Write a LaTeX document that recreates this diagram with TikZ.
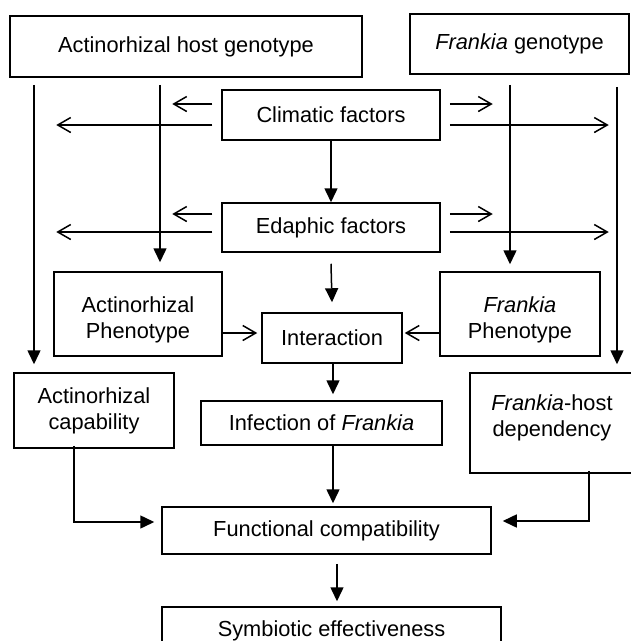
\documentclass[tikz,border=0pt]{standalone}
\usepackage{fontspec}
\setmainfont{Liberation Sans}
\usetikzlibrary{arrows.meta}
\begin{document}
\begin{tikzpicture}[x=1pt,y=-1pt,
  box/.style={draw, line width=1.5pt, inner sep=0pt, align=center,
    font=\fontsize{21.8}{26}\selectfont},
  bx/.style 2 args={box, minimum width=#1pt, minimum height=#2pt},
  fa/.style={line width=1.5pt, -{Triangle[length=14pt,width=13pt]}},
  oa/.style={line width=1.5pt, -{Straight Barb[length=13pt,width=15pt]}}]
\useasboundingbox (0,0) rectangle (631,641);

% boxes
\node[bx={352}{61}] (hg) at (186,46.5) {Actinorhizal host genotype};
\node[bx={219}{60}] (fg) at (519.5,44) {\textit{Frankia} genotype};
\node[bx={218}{50}] (clim) at (331,115) {Climatic factors};
\node[bx={218}{49}] (eda) at (331,227.5) {Edaphic factors};
\node[bx={168}{84}] (aph) at (138,314) {\rule{0pt}{28pt}Actinorhizal\\Phenotype};
\node[bx={160}{84}] (fph) at (520,314) {\rule{0pt}{28pt}\textit{Frankia}\\Phenotype};
\node[bx={140}{50}] (inter) at (332,338) {Interaction};
\node[bx={160}{75}] (acap) at (94,410.5) {Actinorhizal\\capability};
\node[bx={241}{44}] (inf) at (321.5,423) {Infection of \textit{Frankia}};
\node[bx={164}{100}] (fhd) at (552,423) {\textit{Frankia}-host\\dependency\rule[-14pt]{0pt}{14pt}};
\node[bx={329}{47}] (fc) at (326.5,530.5) {Functional compatibility};
\node[bx={339}{47}] (se) at (331.5,630.5) {Symbiotic effectiveness};

% x positions of the long vertical lines
\coordinate (L1) at (34,0);
\coordinate (L2) at (160,0);
\coordinate (R1) at (510,0);
\coordinate (R2) at (617,0);

% genotype lines
\draw[fa] ([yshift=-7pt]hg.south -| L1) -- ([yshift=8pt]acap.north -| L1);
\draw[fa] ([yshift=-7pt]hg.south -| L2) -- ([yshift=9pt]aph.north -| L2);
\draw[fa] ([yshift=-10pt]fg.south -| R1) -- ([yshift=7pt]fph.north -| R1);
\draw[fa] ([yshift=-12pt]fg.south -| R2) -- ([yshift=8pt]fhd.north -| R2);

% climatic factors arrows
\draw[oa] ([shift={(-9pt,11pt)}]clim.west) -- ++(-40,0);
\draw[oa] ([shift={(-9pt,-10pt)}]clim.west) -- ++(-156,0);
\draw[oa] ([shift={(9pt,11pt)}]clim.east) -- ++(43,0);
\draw[oa] ([shift={(9pt,-10pt)}]clim.east) -- ++(159,0);

% edaphic factors arrows
\draw[oa] ([shift={(-9pt,13.5pt)}]eda.west) -- ++(-40,0);
\draw[oa] ([shift={(-9pt,-4.5pt)}]eda.west) -- ++(-156,0);
\draw[oa] ([shift={(9pt,13.5pt)}]eda.east) -- ++(43,0);
\draw[oa] ([shift={(9pt,-4.5pt)}]eda.east) -- ++(159,0);

% central chain
\draw[fa] (clim.south) -- (eda.north);
\draw[fa] ([yshift=-11pt]eda.south) -- ([yshift=10pt]inter.north);
\draw[oa] ([yshift=5pt]inter.west -| aph.east) -- ([shift={(-4pt,5pt)}]inter.west);
\draw[oa] ([yshift=5pt]inter.east -| fph.west) -- ([shift={(2pt,5pt)}]inter.east);
\draw[fa] ([xshift=1pt]inter.south) -- ([shift={(1pt,6pt)}]inf.north -| inter.south);
\draw[fa] ([xshift=1pt]inter.south |- inf.south) -- ([shift={(1pt,3pt)}]inter.south |- fc.north);
\draw[fa] ([xshift=10.5pt]fc.south) ++(0,9) -- ([shift={(10.5pt,5pt)}]fc.south |- se.north);

% side inputs to functional compatibility
\draw[fa] ([shift={(-20pt,3pt)}]acap.south) |- ([shift={(-7pt,8.5pt)}]fc.west);
\draw[fa] ([shift={(37pt,3pt)}]fhd.south) |- ([shift={(11pt,9.5pt)}]fc.east);
\end{tikzpicture}
\end{document}
